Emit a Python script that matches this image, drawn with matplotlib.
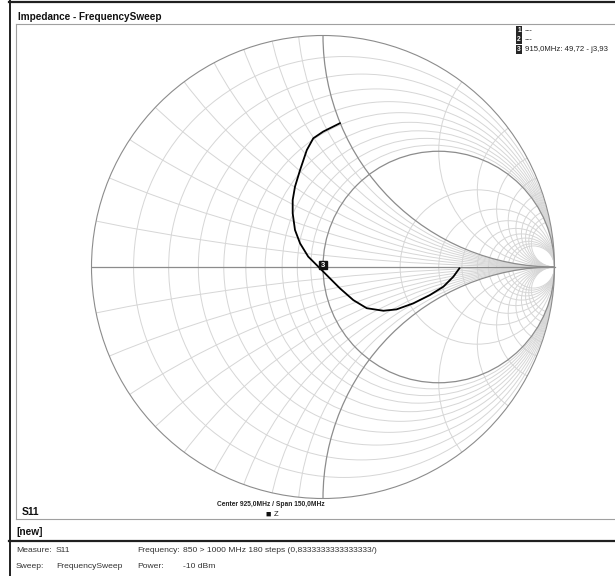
import matplotlib
matplotlib.use("Agg")
import matplotlib.pyplot as plt
import numpy as np
from matplotlib.patches import Circle
from matplotlib.lines import Line2D

W, H = 615, 576

# S11 trace (reflection coefficient), 850 -> 1000 MHz
gamma_re = [0.073, 0.001, -0.042, -0.070, -0.099, -0.121, -0.131, -0.131,
            -0.121, -0.099, -0.064, -0.020, 0.016, 0.073, 0.131, 0.189,
            0.261, 0.318, 0.390, 0.462, 0.520, 0.563, 0.589]
gamma_im = [0.621, 0.585, 0.556, 0.505, 0.419, 0.347, 0.289, 0.232,
            0.160, 0.102, 0.045, 0.001, -0.035, -0.092, -0.143, -0.178,
            -0.189, -0.183, -0.157, -0.121, -0.085, -0.042, -0.006]

# smith grid values
r_values = [0.1, 0.2, 0.3, 0.4, 0.5, 0.6, 0.7, 0.8, 0.9, 2, 3, 4, 5, 6, 7, 8, 9, 10]
x_values = [0.1, 0.2, 0.3, 0.4, 0.5, 0.6, 0.7, 0.8, 0.9, 2, 3, 4, 5, 6, 7, 8, 9, 10]
r_major = [1.0]
x_major = [1.0]

marker_ids = ["1", "2", "3"]
marker_txt = ["---", "---", "915,0MHz: 49,72 - j3,93"]
marker3_pos = (0.002, 0.008)

title = "Impedance - FrequencySweep"
trace_name = "S11"
center_span = "Center 925,0MHz / Span 150,0MHz"
info_left = [("Measure:", "S11"), ("Sweep:", "FrequencySweep")]
info_right = [("Frequency:", "850 > 1000 MHz 180 steps (0,8333333333333333/)"),
              ("Power:", "-10 dBm")]

LIGHT = "#d6d6d6"
DARK = "#8c8c8c"
plt.rcParams['font.family'] = ['Liberation Sans', 'DejaVu Sans']

fig = plt.figure(figsize=(W / 100, H / 100), dpi=100)


def fx(x):
    return x / W


def fy(y):
    return 1 - y / H


def hline(y, x0, x1, c, lw):
    fig.add_artist(Line2D([fx(x0), fx(x1)], [fy(y), fy(y)], color=c, lw=lw,
                          transform=fig.transFigure))


def vline(x, y0, y1, c, lw):
    fig.add_artist(Line2D([fx(x), fx(x)], [fy(y0), fy(y1)], color=c, lw=lw,
                          transform=fig.transFigure))


# window frames
hline(1.5, 9, W, "#202020", 1.6)
vline(9.5, 0, H, "#202020", 1.4)
hline(541, 9, W, "#202020", 1.6)
hline(24, 16, W, "#a0a0a0", 0.8)
vline(16, 24, 519, "#a0a0a0", 0.8)
hline(519, 16, W, "#a0a0a0", 0.8)

# smith chart axes
cx, cy, R = 323, 267, 231.5
pad = 1.02
ax = fig.add_axes([fx(cx - R * pad), fy(cy + R * pad), 2 * R * pad / W, 2 * R * pad / H])
ax.set_xlim(-pad, pad)
ax.set_ylim(-pad, pad)
ax.axis('off')

unit = Circle((0, 0), 1, fill=False, ec=DARK, lw=0.8, zorder=3)
ax.add_patch(unit)

for r in r_values:
    c = Circle((r / (1 + r), 0), 1 / (1 + r), fill=False, ec=LIGHT, lw=0.7, zorder=1)
    ax.add_patch(c)
    c.set_clip_path(unit)
for x in x_values:
    for s in (1, -1):
        c = Circle((1, s / x), 1 / x, fill=False, ec=LIGHT, lw=0.7, zorder=1)
        ax.add_patch(c)
        c.set_clip_path(unit)
for r in r_major:
    c = Circle((r / (1 + r), 0), 1 / (1 + r), fill=False, ec=DARK, lw=0.9, zorder=2)
    ax.add_patch(c)
    c.set_clip_path(unit)
for x in x_major:
    for s in (1, -1):
        c = Circle((1, s / x), 1 / x, fill=False, ec=DARK, lw=0.9, zorder=2)
        ax.add_patch(c)
        c.set_clip_path(unit)
ax.plot([-1, 1], [0, 0], color=DARK, lw=0.9, zorder=2)

ax.plot(gamma_re, gamma_im, color="black", lw=1.3, zorder=4)
ax.plot(*marker3_pos, marker='s', ms=6.0, color="#111111", zorder=5)
ax.text(marker3_pos[0], marker3_pos[1], "3", color="white", fontsize=5.5,
        fontweight="bold", ha="center", va="center", zorder=6)

# marker list top-right
for i, (m, t) in enumerate(zip(marker_ids, marker_txt)):
    y = 30.5 + i * 9.3
    fig.text(fx(519), fy(y), m, color="white", fontsize=4.8, fontweight="bold",
             ha="center", va="center",
             bbox=dict(boxstyle="square,pad=0.15", fc="#262626", ec="none"))
    fig.text(fx(525), fy(y), t, color="#222222", fontsize=5.6, ha="left", va="center")

# texts
fig.text(fx(18), fy(17.5), title, fontsize=7.2, fontweight="bold", color="#111111",
         ha="left", va="center")
fig.text(fx(22), fy(512), trace_name, fontsize=7.4, fontweight="bold", color="#111111",
         ha="left", va="center")
fig.text(fx(271), fy(504), center_span, fontsize=4.8, fontweight="bold", color="#222222",
         ha="center", va="center")
fig.text(fx(268.5), fy(514.5), "\u25a0", fontsize=6.5, color="#111111", ha="center", va="center")
fig.text(fx(274), fy(515), "Z", fontsize=5.5, color="#222222", ha="left", va="center")
fig.text(fx(16), fy(532), "[new]", fontsize=7.3, fontweight="bold", color="#111111",
         ha="left", va="center")

for i, (k, v) in enumerate(info_left):
    y = 551 + i * 15
    fig.text(fx(16), fy(y), k, fontsize=6.1, color="#333333", ha="left", va="center")
    fig.text(fx(56), fy(y), v, fontsize=6.1, color="#333333", ha="left", va="center")
for i, (k, v) in enumerate(info_right):
    y = 551 + i * 15
    fig.text(fx(137), fy(y), k, fontsize=6.1, color="#333333", ha="left", va="center")
    fig.text(fx(183), fy(y), v, fontsize=6.1, color="#333333", ha="left", va="center")

fig.savefig("out.png", dpi=100)
